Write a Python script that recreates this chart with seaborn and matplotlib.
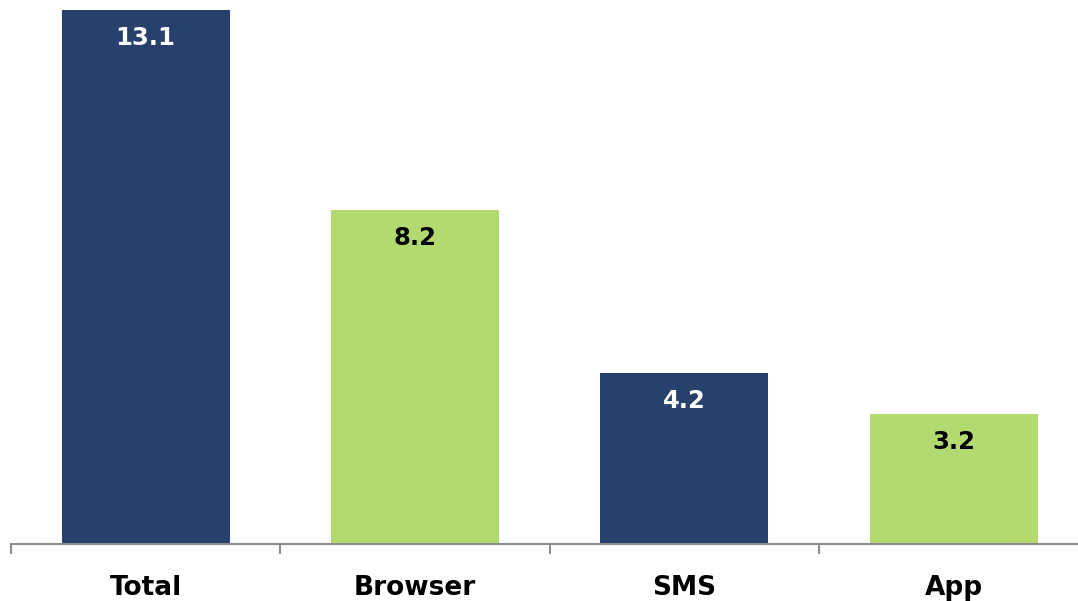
import matplotlib
matplotlib.use('Agg')
import matplotlib.pyplot as plt
import pandas as pd
import seaborn as sns

categories = ['Total', 'Browser', 'SMS', 'App']
values = [13.1, 8.2, 4.2, 3.2]
bar_colors = ['#27416C', '#B3D971', '#27416C', '#B3D971']
label_colors = ['white', 'black', 'white', 'black']

sns.set_theme(style='white')
plt.rcParams['font.family'] = ['DejaVu Sans']

df = pd.DataFrame({'Category': categories, 'Value': values})

fig = plt.figure(figsize=(10.78, 6.01), dpi=100)
ax = fig.add_axes([11 / 1078, 57 / 601, 1 - 11 / 1078, 544 / 601])

sns.barplot(
    data=df,
    x='Category',
    y='Value',
    hue='Category',
    palette=bar_colors,
    width=0.624,
    saturation=1,
    linewidth=0,
    legend=False,
    ax=ax
)

for i, (v, c) in enumerate(zip(values, label_colors)):
    ax.annotate(f'{v:.1f}', (i, v), xytext=(0, -28), textcoords='offset pixels',
                ha='center', va='center', color=c, fontsize=17.5, fontweight='bold')

ax.set_xlim(-0.5, -0.5 + (1078 - 11) / 269.3)
ax.set_ylim(0, 13.35)
ax.set_xlabel('')
ax.set_ylabel('')
ax.set_yticks([])
for side in ['top', 'right', 'left']:
    ax.spines[side].set_visible(False)
ax.spines['bottom'].set_color('#8C8C8C')
ax.spines['bottom'].set_linewidth(1.5)

ax.set_xticks(range(len(categories)))
ax.set_xticklabels(categories, fontsize=19, fontweight='bold', color='black')
ax.tick_params(axis='x', which='major', length=0, pad=22)
ax.set_xticks([-0.5, 0.5, 1.5, 2.5], minor=True)
ax.tick_params(axis='x', which='minor', length=7, width=1.5, color='#8C8C8C', bottom=True)

fig.savefig('out.png', dpi=100)
